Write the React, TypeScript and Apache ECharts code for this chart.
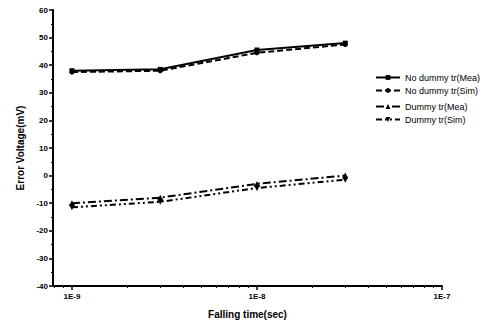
import React, { useEffect, useRef } from "react";
import * as echarts from "echarts";

const fallingTimes = [1e-9, 3e-9, 1e-8, 3e-8];
const noDummyMea = [38, 38.5, 45.5, 48];
const noDummySim = [37.5, 38, 44.5, 47.5];
const dummyMea = [-10, -8, -3, 0];
const dummySim = [-11.5, -9.5, -4.5, -1.5];
const xMajorTicks = [1e-9, 1e-8, 1e-7];
const xTickLabels = ["1E-9", "1E-8", "1E-7"];
const seriesNames = ["No dummy tr(Mea)", "No dummy tr(Sim)", "Dummy tr(Mea)", "Dummy tr(Sim)"];

const lg = (v: number) => Math.log10(v);

export default function App() {
  const ref = useRef<HTMLDivElement>(null);
  useEffect(() => {
    if (!ref.current) return;
    const chart = echarts.init(ref.current, undefined, { renderer: "svg" });
    const font = "Liberation Sans, Arial, sans-serif";
    const xMin = lg(7.9e-10);
    const xMax = -7;
    const minorVals: number[] = [];
    for (let e = -10; e <= -8; e++) {
      for (let k = 2; k <= 9; k++) {
        const v = lg(k * Math.pow(10, e));
        if (v > xMin && v < xMax) minorVals.push(v);
      }
    }
    const mk = (name: string, vals: number[], symbol: string, type: any, size: number) => ({
      name,
      type: "line",
      data: fallingTimes.map((t, i) => [lg(t), vals[i]]),
      symbol,
      symbolSize: size,
      itemStyle: { color: "#000" },
      lineStyle: { color: "#000", width: 2, type },
    });
    const legendText = { fontFamily: font, fontSize: 9, color: "#000" };
    chart.setOption({
      animation: false,
      grid: { left: 53, right: 49, top: 10, bottom: 37 },
      legend: [
        {
          data: seriesNames.slice(0, 2),
          orient: "vertical",
          left: 370,
          top: 68,
          itemWidth: 24,
          itemHeight: 6,
          itemGap: 4,
          textStyle: legendText,
        },
        {
          data: seriesNames.slice(2, 4),
          orient: "vertical",
          left: 370,
          top: 97,
          itemWidth: 24,
          itemHeight: 6,
          itemGap: 4,
          textStyle: legendText,
        },
      ],
      xAxis: [
        {
          type: "value",
          min: xMin,
          max: xMax,
          name: "Falling time(sec)",
          nameLocation: "middle",
          nameGap: 23,
          nameTextStyle: { fontFamily: font, fontSize: 10, fontWeight: "bold", color: "#000" },
          axisLine: { onZero: false, lineStyle: { color: "#000", width: 2 } },
          axisTick: { show: true, length: 4, lineStyle: { color: "#000", width: 1.5 }, customValues: xMajorTicks.map(lg) },
          axisLabel: {
            customValues: xMajorTicks.map(lg),
            formatter: (v: number) => {
              const i = xMajorTicks.findIndex((t) => Math.abs(lg(t) - v) < 1e-6);
              return i >= 0 ? xTickLabels[i] : "";
            },
            fontFamily: font,
            fontSize: 8,
            fontWeight: "bold",
            color: "#000",
            margin: 6,
          },
          splitLine: { show: false },
        },
        {
          type: "value",
          min: xMin,
          max: xMax,
          position: "bottom",
          axisLine: { show: false, onZero: false },
          axisTick: { show: true, length: 2, lineStyle: { color: "#000", width: 1 }, customValues: minorVals },
          axisLabel: { show: false },
          splitLine: { show: false },
        },
      ],
      yAxis: {
        type: "value",
        min: -40,
        max: 60,
        interval: 10,
        name: "Error Voltage(mV)",
        nameLocation: "middle",
        nameGap: 27,
        nameTextStyle: { fontFamily: font, fontSize: 10, fontWeight: "bold", color: "#000" },
        axisLine: { show: true, onZero: false, lineStyle: { color: "#000", width: 2 } },
        axisTick: { show: true, length: 4, lineStyle: { color: "#000", width: 1.5 } },
        minorTick: { show: true, splitNumber: 2, length: 2, lineStyle: { color: "#000" } },
        axisLabel: { fontFamily: font, fontSize: 8, fontWeight: "bold", color: "#000", margin: 5 },
        splitLine: { show: false },
      },
      series: [
        mk(seriesNames[0], noDummyMea, "rect", "solid", 5),
        mk(seriesNames[1], noDummySim, "circle", [6, 3], 5),
        mk(seriesNames[2], dummyMea, "triangle", [8, 3, 2, 3], 6),
        mk(seriesNames[3], dummySim, "path://M0,0 L10,0 L5,10 Z", [6, 3, 2, 3, 2, 3], 6),
      ],
    });
    return () => chart.dispose();
  }, []);
  return <div ref={ref} style={{ width: 491, height: 324, position: "absolute", left: 0, top: 0, background: "#fff" }} />;
}
